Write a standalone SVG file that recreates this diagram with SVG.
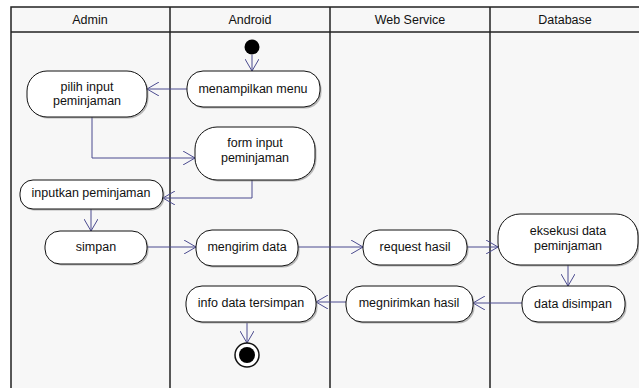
<svg xmlns="http://www.w3.org/2000/svg" width="639" height="388" viewBox="0 0 639 388">
<style>
.lane{fill:#f7f7f7;stroke:#222;stroke-width:1.5}
.ln{stroke:#222;stroke-width:1.5;fill:none}
.hd{font-family:"Liberation Sans",Arial,sans-serif;font-size:12.5px;fill:#111;text-anchor:middle}
.nd{fill:#fff;stroke:#111;stroke-width:1}
.sh{fill:#777;opacity:0.5}
.t{font-family:"Liberation Sans",Arial,sans-serif;font-size:12.5px;fill:#111;text-anchor:middle}
.c{stroke:#4b4b8f;stroke-width:1;fill:none;marker-end:url(#ah)}
</style>
<defs>
<marker id="ah" viewBox="0 0 12 14" refX="12" refY="7" markerWidth="12" markerHeight="14" markerUnits="userSpaceOnUse" orient="auto">
<path d="M0,0 L12,7 L0,14" fill="none" stroke="#4b4b8f" stroke-width="1"/>
</marker>
</defs>
<rect width="639" height="388" fill="#fff"/>
<g id="lanes">
<rect class="lane" x="11" y="7" width="640" height="400"/>
<line class="ln" x1="11" y1="32" x2="639" y2="32"/>
<line class="ln" x1="170" y1="7" x2="170" y2="388"/>
<line class="ln" x1="330" y1="7" x2="330" y2="388"/>
<line class="ln" x1="490" y1="7" x2="490" y2="388"/>
<text class="hd" x="90" y="24">Admin</text>
<text class="hd" x="250" y="24">Android</text>
<text class="hd" x="410" y="24">Web Service</text>
<text class="hd" x="565" y="24">Database</text>
</g>
<g id="connectors">
<path class="c" d="M252,55 L252,71"/>
<path class="c" d="M187,89 L147,89"/>
<path class="c" d="M92,117 L92,158 L195,158"/>
<path class="c" d="M252,180 L252,198 L163,198"/>
<path class="c" d="M91,209 L91,231"/>
<path class="c" d="M147,247 L196,247"/>
<path class="c" d="M298,247 L363,247"/>
<path class="c" d="M467,247 L498,247"/>
<path class="c" d="M568,265 L568,286"/>
<path class="c" d="M522,303 L473,303"/>
<path class="c" d="M346,302 L316,302"/>
<path class="c" d="M247,323 L247,343"/>
</g>
<g id="start"><circle cx="252" cy="47" r="7.5" fill="#000"/></g>
<g id="menampilkan-menu">
<rect class="sh" x="188.5" y="72.5" width="133" height="36" rx="16"/>
<rect class="nd" x="187" y="71" width="133" height="36" rx="16"/>
<text class="t" x="253" y="93">menampilkan menu</text>
</g>
<g id="pilih-input">
<rect class="sh" x="28.5" y="72.5" width="120" height="46" rx="20"/>
<rect class="nd" x="27" y="71" width="120" height="46" rx="20"/>
<text class="t" x="87" y="91">pilih input</text>
<text class="t" x="87" y="105">peminjaman</text>
</g>
<g id="form-input">
<rect class="sh" x="196.5" y="128.5" width="120" height="53" rx="22"/>
<rect class="nd" x="195" y="127" width="120" height="53" rx="22"/>
<text class="t" x="255" y="147">form input</text>
<text class="t" x="255" y="162">peminjaman</text>
</g>
<g id="inputkan-peminjaman">
<rect class="sh" x="21.5" y="181.5" width="143" height="29" rx="13"/>
<rect class="nd" x="20" y="180" width="143" height="29" rx="13"/>
<text class="t" x="91" y="197">inputkan peminjaman</text>
</g>
<g id="simpan">
<rect class="sh" x="46.5" y="232.5" width="102" height="33" rx="15"/>
<rect class="nd" x="45" y="231" width="102" height="33" rx="15"/>
<text class="t" x="96" y="251">simpan</text>
</g>
<g id="mengirim-data">
<rect class="sh" x="197.5" y="231.5" width="102" height="36" rx="16"/>
<rect class="nd" x="196" y="230" width="102" height="36" rx="16"/>
<text class="t" x="247" y="251">mengirim data</text>
</g>
<g id="request-hasil">
<rect class="sh" x="364.5" y="231.5" width="104" height="35" rx="16"/>
<rect class="nd" x="363" y="230" width="104" height="35" rx="16"/>
<text class="t" x="415" y="251">request hasil</text>
</g>
<g id="eksekusi-data">
<rect class="sh" x="499.5" y="215.5" width="140" height="51" rx="22"/>
<rect class="nd" x="498" y="214" width="140" height="51" rx="22"/>
<text class="t" x="568" y="235">eksekusi data</text>
<text class="t" x="568" y="250">peminjaman</text>
</g>
<g id="data-disimpan">
<rect class="sh" x="523.5" y="287.5" width="103" height="36" rx="16"/>
<rect class="nd" x="522" y="286" width="103" height="36" rx="16"/>
<text class="t" x="573" y="308">data disimpan</text>
</g>
<g id="megnirimkan-hasil">
<rect class="sh" x="347.5" y="287.5" width="127" height="36" rx="16"/>
<rect class="nd" x="346" y="286" width="127" height="36" rx="16"/>
<text class="t" x="409" y="307">megnirimkan hasil</text>
</g>
<g id="info-data-tersimpan">
<rect class="sh" x="187.5" y="287.5" width="130" height="36" rx="16"/>
<rect class="nd" x="186" y="286" width="130" height="36" rx="16"/>
<text class="t" x="251" y="307">info data tersimpan</text>
</g>
<g id="end">
<circle cx="247" cy="355" r="12" fill="#fff" stroke="#111" stroke-width="1.5"/>
<circle cx="247" cy="355" r="8" fill="#000"/>
</g>
</svg>
